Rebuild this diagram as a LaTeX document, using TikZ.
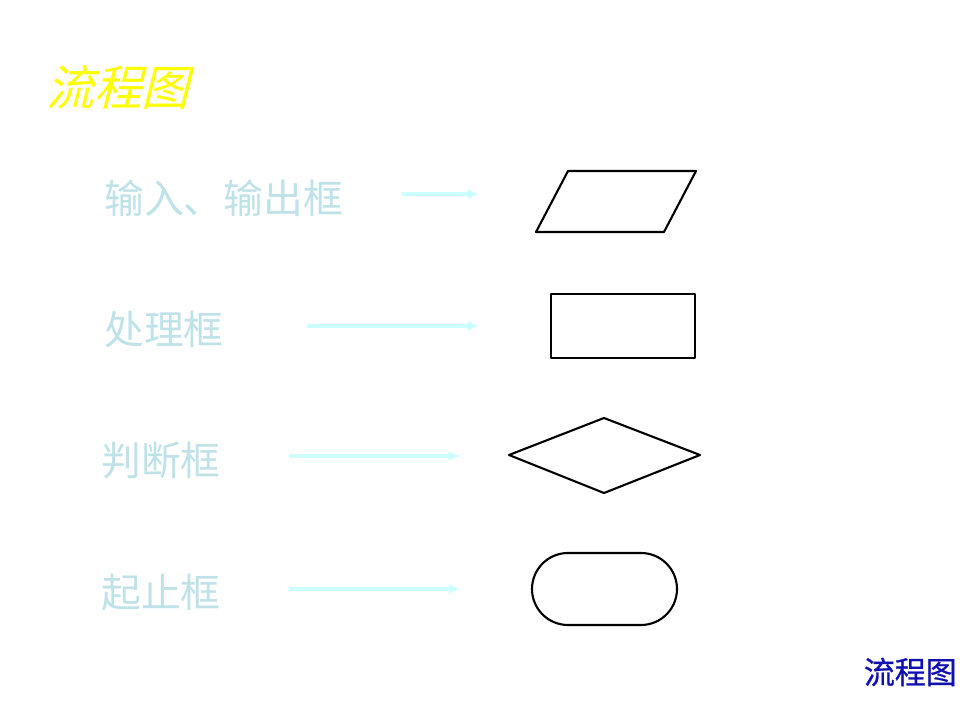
\documentclass[tikz,border=0pt]{standalone}
\usepackage{fontspec}
\newfontfamily\cjk{Noto Sans CJK SC}
\newfontfamily\cjkslant[FakeSlant=0.25]{Noto Sans CJK SC}
\newfontfamily\cjkbold[FakeBold=0.8]{Noto Sans CJK SC}
\usetikzlibrary{arrows.meta}
\definecolor{TitleYellow}{RGB}{255,255,0}
\definecolor{LabelCyan}{RGB}{190,226,232}
\definecolor{ArrowCyan}{RGB}{204,255,255}
\definecolor{CornerBlue}{RGB}{16,16,176}

\begin{document}
\begin{tikzpicture}[x=0.025cm, y=-0.025cm,
    label/.style = {anchor=west, inner sep=0pt, text=LabelCyan, font=\cjk\fontsize{28.3}{28}\selectfont},
    pointer/.style = {draw=ArrowCyan, line width=2.4pt, -{Latex[length=2.8mm, width=2.6mm]}},
    box/.style = {draw=black, line width=1.5pt, line join=round}]

\useasboundingbox[fill=white] (0, 0) rectangle (960, 720);

% titles
\node[anchor=west, inner sep=0pt, text=TitleYellow, font=\cjkslant\fontsize{34}{34}\selectfont]
    (title) at (46, 87) {流程图};
\node[anchor=east, inner sep=0pt, text=CornerBlue, font=\cjkbold\fontsize{22}{22}\selectfont]
    (corner) at (957, 672) {流程图};

% names of the boxes
\node[label] (io) at (104, 198) {输入、输出框};
\node[label] (proc) at (104, 329) {处理框};
\node[label] (judge) at (101, 460) {判断框};
\node[label] (term) at (101, 592) {起止框};

% arrows
\coordinate (ioA) at (402, 194);
\coordinate (ioB) at (479, 194);
\coordinate (procA) at (307, 326);
\coordinate (procB) at (479, 326);
\coordinate (judgeA) at (289, 456);
\coordinate (judgeB) at (460, 456);
\coordinate (termA) at (289, 589);
\coordinate (termB) at (460, 589);
\draw[pointer] (ioA) -- (ioB);
\draw[pointer] (procA) -- (procB);
\draw[pointer] (judgeA) -- (judgeB);
\draw[pointer] (termA) -- (termB);

% the boxes
\draw[box] (536, 232) -- (568, 171) -- (696, 171) -- (664, 232) -- cycle;
\draw[box] (551, 294) rectangle (695, 358);
\draw[box] (509, 455) -- (604, 418) -- (700, 455) -- (604, 493) -- cycle;
\draw[box, rounded corners=0.9cm] (532, 553) rectangle (677, 625);

\end{tikzpicture}
\end{document}
